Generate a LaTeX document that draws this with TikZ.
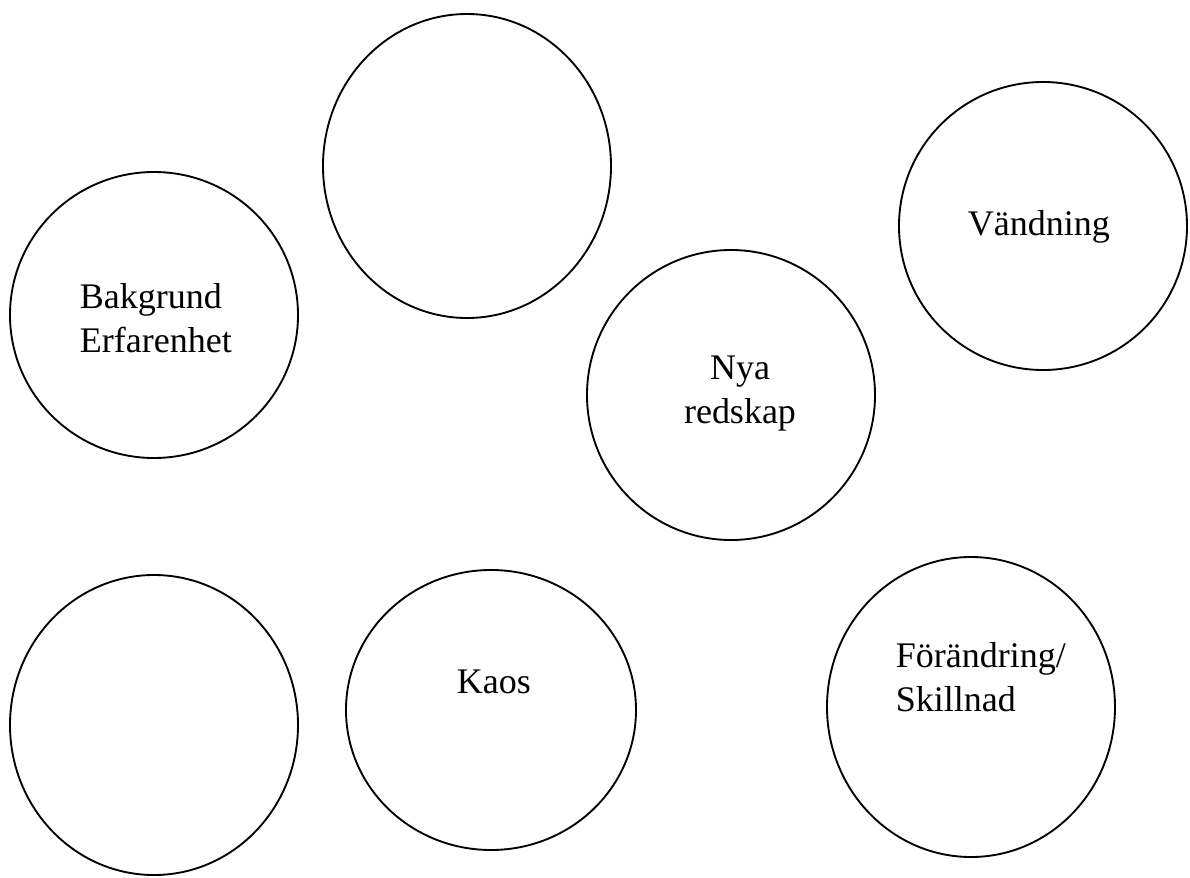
\documentclass[tikz,border=0pt]{standalone}
\usepackage{fontspec}
\setmainfont{Liberation Serif}
\usetikzlibrary{shapes.geometric}

\tikzset{every picture/.style={line width=1.4pt}}
\tikzset{bubble/.style={draw, ellipse, inner sep=0pt},
         bubbletext/.style={inner sep=0pt, font=\fontsize{27}{32.5}\selectfont}}

\begin{document}
\begin{tikzpicture}[x=0.75pt,y=0.75pt,yscale=-1,xscale=1]
        \path[use as bounding box] (0,0) rectangle (1190,878);

        %Shape: Ellipse [id:tom1] 
        \node [bubble, minimum width=216pt, minimum height=228pt] (tom1) at (467,166) {};
        %Shape: Ellipse [id:bakgrund] 
        \node [bubble, minimum width=216pt, minimum height=214.5pt] (bakgrund) at (154,315) {};
        %Shape: Ellipse [id:vandning] 
        \node [bubble, minimum width=216pt, minimum height=216pt] (vandning) at (1043,226) {};
        %Shape: Ellipse [id:nya] 
        \node [bubble, minimum width=216pt, minimum height=217.5pt] (nya) at (731,395) {};
        %Shape: Ellipse [id:tom2] 
        \node [bubble, minimum width=216pt, minimum height=225pt] (tom2) at (154,725) {};
        %Shape: Ellipse [id:kaos] 
        \node [bubble, minimum width=217.5pt, minimum height=210pt] (kaos) at (491,710) {};
        %Shape: Ellipse [id:forandring] 
        \node [bubble, minimum width=216pt, minimum height=225pt] (forandring) at (971,707) {};

        % Text Node
        \node [bubbletext, anchor=base west, align=left] (bakgrundtxt) at (79,352) {Bakgrund\\Erfarenhet};
        % Text Node
        \node [bubbletext, anchor=base west] (vandningtxt) at (967,235) {Vändning};
        % Text Node
        \node [bubbletext, anchor=base, align=center] (nyatxt) at (740,423) {Nya\\redskap};
        % Text Node
        \node [bubbletext, anchor=base west] (kaostxt) at (456,693) {Kaos};
        % Text Node
        \node [bubbletext, anchor=base west, align=left] (forandringtxt) at (895,711) {Förändring/\\Skillnad};

    \end{tikzpicture}
\end{document}
